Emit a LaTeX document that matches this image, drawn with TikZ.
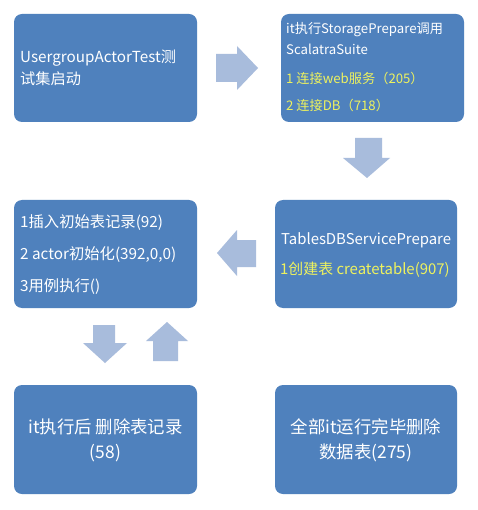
\documentclass[tikz,border=0pt]{standalone}
\usepackage{fontspec}
\setmainfont{Noto Sans CJK SC}
\definecolor{boxblue}{HTML}{4F81BD}
\definecolor{arrowblue}{HTML}{A8BCDC}
\definecolor{ytext}{HTML}{EEF25E}
\begin{document}
\begin{tikzpicture}[x=1pt,y=-1pt,
  box/.style={fill=boxblue, rounded corners=8pt, inner sep=0pt, draw=none},
  txt/.style={anchor=base west, inner sep=0pt, text=white},
  ctxt/.style={anchor=base, inner sep=0pt, text=white},
  blockarrow/.style={fill=arrowblue}]
\useasboundingbox (0,0) rectangle (477,510);
\fill[white] (0,0) rectangle (477,510);
% boxes
\node[box, minimum width=183pt, minimum height=108pt] (b1) at (105.5,68) {};
\node[box, minimum width=183pt, minimum height=108pt] (b2) at (372.5,68) {};
\node[box, minimum width=183pt, minimum height=108pt] (b3) at (105.5,254) {};
\node[box, minimum width=182pt, minimum height=108pt] (b4) at (366,254) {};
\node[box, minimum width=183pt, minimum height=109pt] (b5) at (105.5,439.5) {};
\node[box, minimum width=182pt, minimum height=109pt] (b6) at (366,439.5) {};
% box 1 text
\node[txt, font=\fontsize{15.2}{18}\selectfont] (t11) at (20,63) {UsergroupActorTest测};
\node[txt, font=\fontsize{15.2}{18}\selectfont] (t12) at (20,85) {试集启动};
% box 2 text
\node[txt, font=\fontsize{13.2}{16}\selectfont] (t21) at (286,34) {it执行StoragePrepare调用};
\node[txt, font=\fontsize{13.2}{16}\selectfont] (t22) at (286,55) {ScalatraSuite};
\node[txt, text=ytext, font=\fontsize{13.2}{16}\selectfont] (t23) at (286,84) {1 连接web服务（205）};
\node[txt, text=ytext, font=\fontsize{13.2}{16}\selectfont] (t24) at (286,111) {2 连接DB（718）};
% box 3 text
\node[txt, font=\fontsize{15.3}{18}\selectfont] (t31) at (20,228) {1插入初始表记录(92)};
\node[txt, font=\fontsize{15.3}{18}\selectfont] (t32) at (20,259) {2 actor初始化(392,0,0)};
\node[txt, font=\fontsize{15.3}{18}\selectfont] (t33) at (20,291) {3用例执行()};
% box 4 text
\node[txt, font=\fontsize{14.9}{18}\selectfont] (t41) at (281,244) {TablesDBServicePrepare};
\node[txt, text=ytext, font=\fontsize{14.9}{18}\selectfont] (t42) at (280,274) {1创建表 createtable(907)};
% box 5 text
\node[ctxt, font=\fontsize{17.4}{20}\selectfont] (t51) at (105.5,433) {it执行后 删除表记录};
\node[ctxt, font=\fontsize{17.4}{20}\selectfont] (t52) at (105.5,458) {(58)};
% box 6 text
\node[ctxt, font=\fontsize{17.4}{20}\selectfont] (t61) at (366,433) {全部it运行完毕删除};
\node[ctxt, font=\fontsize{17.4}{20}\selectfont] (t62) at (366,458) {数据表(275)};
% block arrows
\fill[blockarrow] (216,54) -- (237,54) -- (237,46) -- (258,68) -- (237,90) -- (237,82) -- (216,82) -- cycle;
\fill[blockarrow] (355,138) -- (382,138) -- (382,158) -- (390,158) -- (367,178) -- (343,158) -- (355,158) -- cycle;
\fill[blockarrow] (256,240) -- (237,240) -- (237,230) -- (217,253) -- (237,276) -- (237,267) -- (256,267) -- cycle;
\fill[blockarrow] (93,325) -- (115,325) -- (115,343) -- (127,343) -- (105,363) -- (83,343) -- (93,343) -- cycle;
\fill[blockarrow] (153,361) -- (178,361) -- (178,341) -- (188,341) -- (167,322) -- (146,341) -- (153,341) -- cycle;
\end{tikzpicture}
\end{document}
